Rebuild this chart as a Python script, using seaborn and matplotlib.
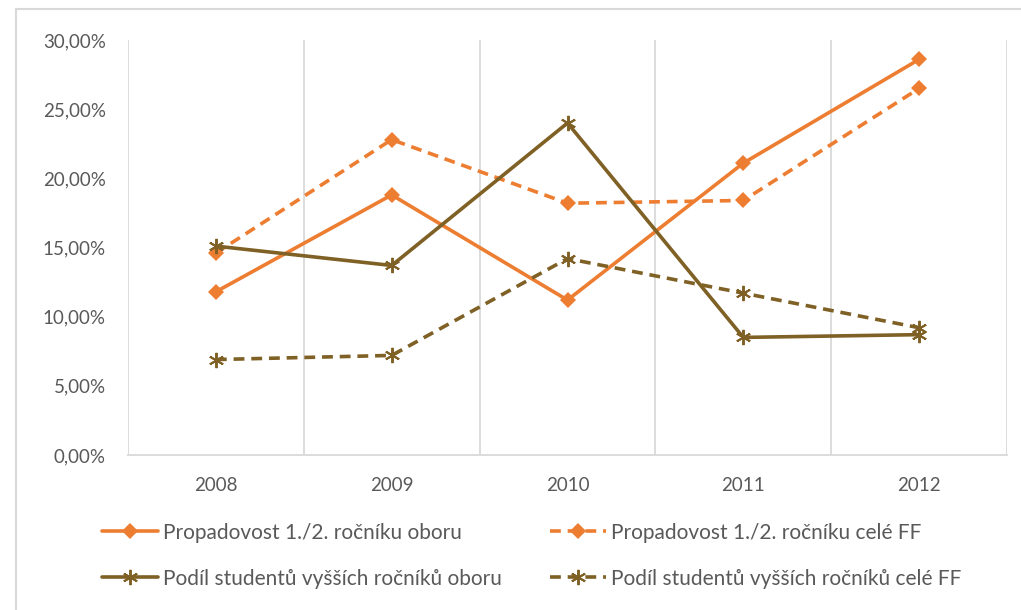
import matplotlib
matplotlib.use("Agg")
import matplotlib.pyplot as plt
import seaborn as sns
import pandas as pd
from matplotlib.lines import Line2D
from matplotlib.ticker import FuncFormatter

years = ["2008", "2009", "2010", "2011", "2012"]
prop_obor = [11.8, 18.8, 11.2, 21.1, 28.6]
prop_ff = [14.6, 22.8, 18.2, 18.4, 26.5]
podil_obor = [15.1, 13.7, 24.0, 8.5, 8.7]
podil_ff = [6.9, 7.2, 14.2, 11.7, 9.2]

labels = [
    "Propadovost 1./2. ročníku oboru",
    "Propadovost 1./2. ročníku celé FF",
    "Podíl studentů vyšších ročníků oboru",
    "Podíl studentů vyšších ročníků celé FF",
]

ORANGE = "#ED7D31"
BROWN = "#7F6025"
GRAY = "#595959"

sns.set_theme(style="white")
plt.rcParams["font.family"] = ["Lato", "DejaVu Sans"]

fig = plt.figure(figsize=(10.21, 6.10), dpi=100)
ax = fig.add_axes([128 / 1021, 1 - 455 / 610, (1007 - 128) / 1021, (455 - 40) / 610])

x = list(range(len(years)))
series = [
    (prop_obor, ORANGE, "D", False),
    (prop_ff, ORANGE, "D", True),
    (podil_obor, BROWN, (6, 2, 0), False),
    (podil_ff, BROWN, (6, 2, 0), True),
]

handles = []
for (vals, col, mk, dashed), lab in zip(series, labels):
    df = pd.DataFrame({"x": x, "y": vals})
    star = mk != "D"
    kw = dict(color=col, marker=mk, linewidth=2.6,
              markersize=11 if star else 8.5,
              markeredgewidth=1.4 if star else 0,
              markeredgecolor=col, markerfacecolor=col)
    line_ax = sns.lineplot(data=df, x="x", y="y", ax=ax, **kw)
    ln = line_ax.lines[-1]
    if dashed:
        ln.set_dashes((3.0, 1.9))
    handles.append(Line2D([], [], linestyle=(0, (3.0, 1.9)) if dashed else "-", label=lab, **kw))

ax.set_xlim(-0.5, 4.5)
ax.set_ylim(0, 30)
ax.set_yticks([0, 5, 10, 15, 20, 25, 30])
ax.yaxis.set_major_formatter(FuncFormatter(lambda v, p: f"{v:.2f}%".replace(".", ",")))
ax.set_xticks(x)
ax.set_xticklabels(years)
ax.set_xticks([i - 0.5 for i in range(len(years) + 1)], minor=True)
ax.grid(False)
ax.grid(True, which="minor", axis="x", color="#D9D9D9", linewidth=1.3)
ax.set_xlabel("")
ax.set_ylabel("")
for s in ["top", "right", "left"]:
    ax.spines[s].set_visible(False)
ax.spines["bottom"].set_color("#D9D9D9")
ax.spines["bottom"].set_linewidth(1.3)
ax.tick_params(axis="both", which="both", length=0, colors=GRAY, labelsize=13.5)
ax.tick_params(axis="x", pad=16)
ax.tick_params(axis="y", pad=16)

# row-wise order in a 2-column legend
order = [0, 2, 1, 3]
leg = fig.legend(handles=[handles[i] for i in order], ncol=2, loc="upper left",
                 bbox_to_anchor=(87 / 1021, 1 - 508 / 610), frameon=False,
                 fontsize=15, handlelength=2.7, handletextpad=0.25,
                 columnspacing=2.3, labelspacing=1.25, borderpad=0.2)
for t in leg.get_texts():
    t.set_color(GRAY)

# chart area border
fig.add_artist(Line2D([16 / 1021, 1], [1 - 9 / 610, 1 - 9 / 610], color="#D9D9D9", linewidth=1.5,
                      transform=fig.transFigure))
fig.add_artist(Line2D([16 / 1021, 16 / 1021], [0, 1 - 9 / 610], color="#D9D9D9", linewidth=1.5,
                      transform=fig.transFigure))

fig.savefig("out.png", dpi=100)
